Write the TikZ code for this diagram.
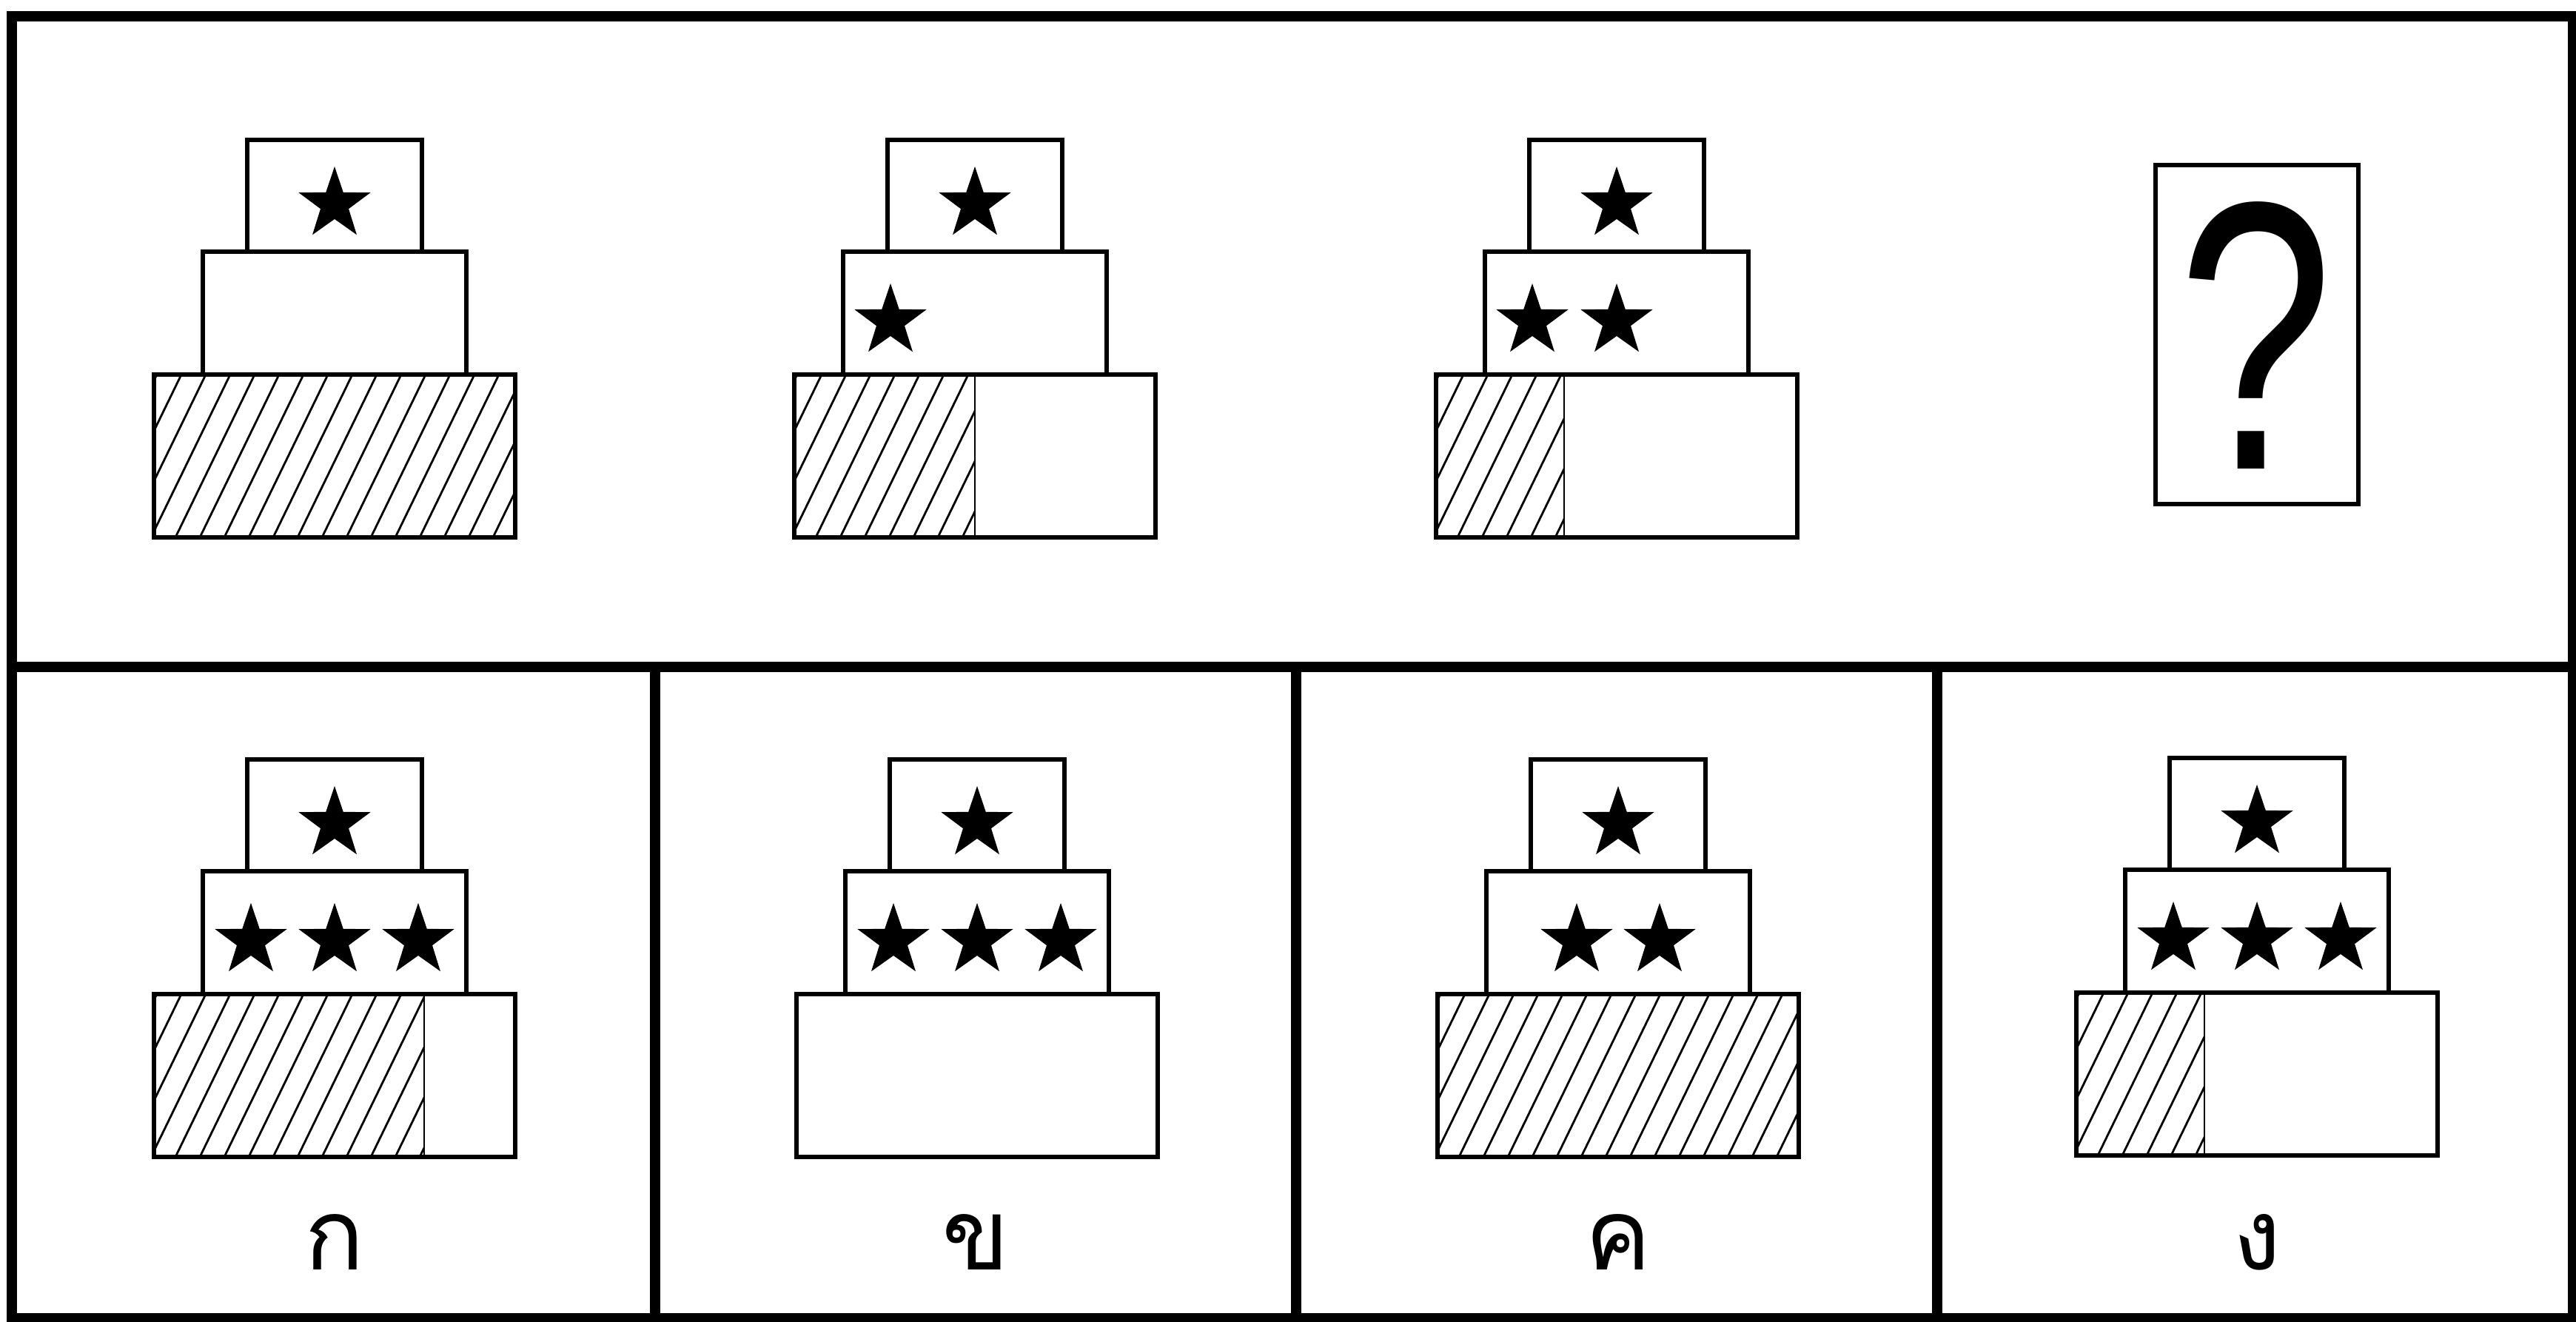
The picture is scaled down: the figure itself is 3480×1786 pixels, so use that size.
\documentclass[tikz,border=0pt]{standalone}
\usepackage{fontspec}
\newfontfamily\thaifont[Script=Thai]{Loma}
\newfontfamily\qfont{Liberation Sans}
\tikzset{
  frameline/.style={line width=0.14cm, line cap=rect},
  tier/.style={draw=black, line width=0.06cm, fill=white},
  hatchline/.style={line width=0.028cm},
  splitline/.style={line width=0.028cm},
  labeltext/.style={font=\thaifont\fontsize{38}{38}\selectfont, anchor=base, inner sep=0pt},
  starpic/.pic={\fill[black] (-90:51) -- (-54:20) -- (-18:51) -- (18:20) -- (54:51) -- (90:20) -- (126:51) -- (162:20) -- (198:51) -- (234:20) -- cycle;}
}
% #1 centre x, #2 bottom y, #3 hatched width (0..488)
\newcommand\cakedraw[3]{%
  \begin{scope}[shift={(#1,#2)}]
    \draw[tier] (-244,0) rectangle (244,-220);
    \begin{scope}
      \clip (-244,0) rectangle ({-244+#3},-220);
      \foreach \k in {-2,...,17}
        \draw[hatchline] ({-207+33*\k-107},0) -- ({-207+33*\k},-220);
    \end{scope}
    \ifnum#3>0 \ifnum#3<488
      \draw[splitline] ({-244+#3},0) -- ({-244+#3},-220);
    \fi\fi
    \draw[tier, fill=none] (-244,0) rectangle (244,-220);
    \draw[tier] (-178,-220) rectangle (178,-386);
    \draw[tier] (-118,-386) rectangle (118,-537);
    \pic at (0,-450) {starpic};
  \end{scope}}
\begin{document}
\begin{tikzpicture}[x=0.01cm, y=-0.01cm]
\useasboundingbox (0,0) rectangle (3480,1786);
\fill[white] (0,0) rectangle (3480,1786);
% frame
\draw[frameline] (16,22) rectangle (3476,1781);
\draw[frameline] (16,901) -- (3476,901);
\draw[frameline] (885,901) -- (885,1781);
\draw[frameline] (1751,901) -- (1751,1781);
\draw[frameline] (2617,901) -- (2617,1781);
% top row
\cakedraw{452}{726}{488}
\cakedraw{1317}{726}{244}
\pic at (1317-114,726-292) {starpic};
\cakedraw{2184}{726}{173}
\pic at (2184-114,726-292) {starpic};
\pic at (2184,726-292) {starpic};
\node (qbox) [draw, line width=0.06cm, minimum width=2.74cm, minimum height=4.58cm, inner sep=0pt] at (3049,452) {};
\node (qmark) [font=\qfont\fontsize{147}{147}\selectfont, xscale=0.73, anchor=base, inner sep=0pt] at (3047,634) {?};
% answer row
\cakedraw{452}{1563}{365}
\pic at (452-113,1563-292) {starpic};
\pic at (452,1563-292) {starpic};
\pic at (452+113,1563-292) {starpic};
\cakedraw{1320}{1563}{0}
\pic at (1320-113,1563-292) {starpic};
\pic at (1320,1563-292) {starpic};
\pic at (1320+113,1563-292) {starpic};
\cakedraw{2186}{1563}{488}
\pic at (2186-56,1563-292) {starpic};
\pic at (2186+56,1563-292) {starpic};
\cakedraw{3049}{1561}{173}
\pic at (3049-113,1561-292) {starpic};
\pic at (3049,1561-292) {starpic};
\pic at (3049+113,1561-292) {starpic};
% labels
\node (la) [labeltext] at (452,1716) {ก};
\node (lb) [labeltext] at (1318,1716) {ข};
\node (lc) [labeltext] at (2186,1716) {ค};
\node (ld) [labeltext] at (3049,1716) {ง};
\end{tikzpicture}
\end{document}
